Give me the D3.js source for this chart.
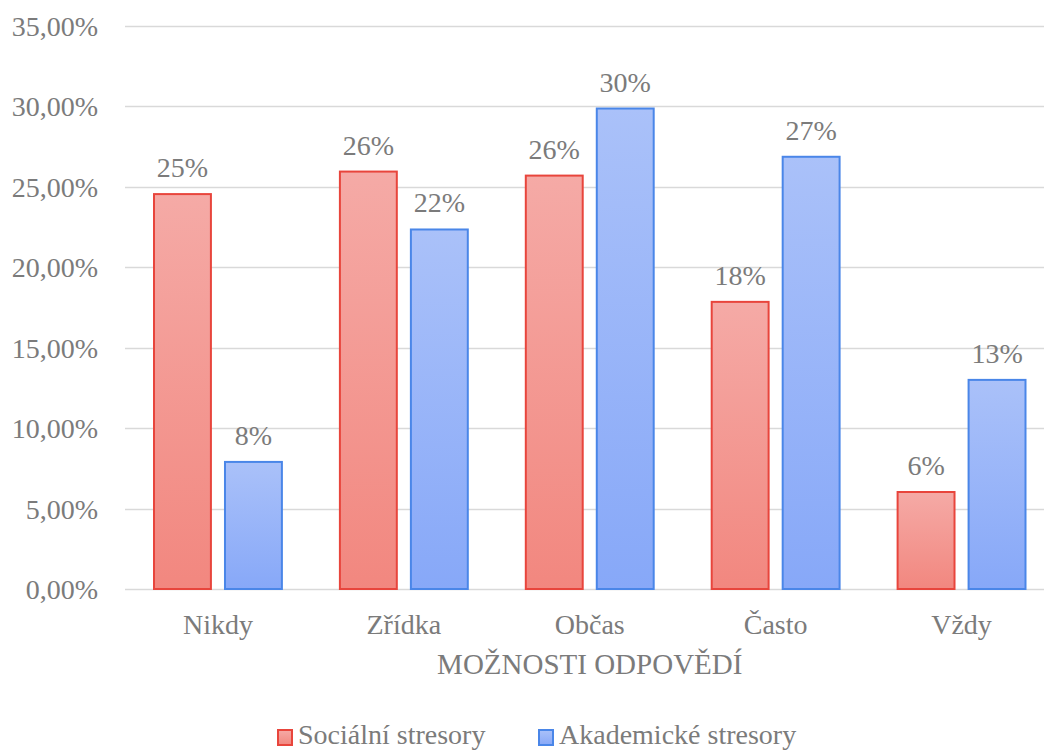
<!DOCTYPE html>
<html><head><meta charset="utf-8">
<script src="https://cdn.jsdelivr.net/npm/d3@7"></script>
<style>body{margin:0;background:#fff}svg{display:block}</style>
</head><body><svg id="c" width="1044" height="751"></svg>
<script>
const categories = ["Nikdy","Zřídka","Občas","Často","Vždy"];
const seriesNames = ["Sociální stresory","Akademické stresory"];
const social = [0.2455,0.2595,0.2570,0.1785,0.0603];
const academic = [0.0790,0.2235,0.2987,0.2687,0.1300];
const yTicks = [0,0.05,0.10,0.15,0.20,0.25,0.30,0.35];
const axisTitle = "MOŽNOSTI ODPOVĚDÍ";

const FONT = "'Liberation Serif'";
const TXT = "#7b7b7b";
const svg = d3.select("#c");
const plotLeft = 125, step = 185.9, plotTop = 26, plotBottom = 589;
const x0 = d3.scaleBand().domain(categories).range([plotLeft, plotLeft + step*categories.length]).paddingInner(0).paddingOuter(0);
const x1 = d3.scaleBand().domain(seriesNames).range([28, step-28]).paddingInner(0.17);
const y = d3.scaleLinear().domain([0,0.35]).range([plotBottom, plotTop]);

const defs = svg.append("defs");
const grads = [
  {id:"gR", top:"#f5aaa6", bot:"#f2877f", stroke:"#e8453c"},
  {id:"gB", top:"#aac1f9", bot:"#87a8f8", stroke:"#4a86e8"}
];
grads.forEach(g=>{
  const lg = defs.append("linearGradient").attr("id",g.id).attr("x1",0).attr("y1",0).attr("x2",0).attr("y2",1);
  lg.append("stop").attr("offset","0%").attr("stop-color",g.top);
  lg.append("stop").attr("offset","100%").attr("stop-color",g.bot);
});

// gridlines
svg.append("g").selectAll("line").data(yTicks).join("line")
  .attr("x1",plotLeft).attr("x2",1044).attr("y1",d=>Math.round(y(d))+0.5).attr("y2",d=>Math.round(y(d))+0.5)
  .attr("stroke","#d9d9d9").attr("stroke-width",1.5);

// y tick labels
const fmt = d => (d*100).toFixed(2).replace(".", ",") + "%";
svg.append("g").selectAll("text").data(yTicks).join("text")
  .attr("font-family",FONT).attr("fill",TXT)
  .attr("x",98).attr("y",d=>y(d)+10).attr("text-anchor","end").attr("font-size",28).text(fmt);

const data = [social, academic];
data.forEach((vals,si)=>{
  const g = svg.append("g");
  g.selectAll("rect").data(vals).join("rect")
    .attr("x",(d,i)=>x0(categories[i])+x1(seriesNames[si])+1)
    .attr("y",d=>y(d))
    .attr("width",x1.bandwidth()-2)
    .attr("height",d=>y(0)-y(d))
    .attr("fill",`url(#${grads[si].id})`)
    .attr("stroke",grads[si].stroke).attr("stroke-width",2);
  g.selectAll("text").data(vals).join("text")
    .attr("font-family",FONT).attr("fill",TXT)
    .attr("x",(d,i)=>x0(categories[i])+x1(seriesNames[si])+x1.bandwidth()/2)
    .attr("y",d=>y(d)-17)
    .attr("text-anchor","middle").attr("font-size",28)
    .text(d=>Math.round(d*100)+"%");
});

// category labels
svg.append("g").selectAll("text").data(categories).join("text")
  .attr("font-family",FONT).attr("fill",TXT)
  .attr("x",d=>x0(d)+step/2).attr("y",634).attr("text-anchor","middle").attr("font-size",28).text(d=>d);

svg.append("text").attr("font-family",FONT).attr("fill",TXT)
  .attr("x",x0(categories[2])+step/2).attr("y",674).attr("text-anchor","middle").attr("font-size",29).text(axisTitle);

// legend
const legX = [277, 538];
seriesNames.forEach((n,i)=>{
  svg.append("rect").attr("x",legX[i]+1).attr("y",730).attr("width",14).attr("height",15)
    .attr("fill",`url(#${grads[i].id})`).attr("stroke",grads[i].stroke).attr("stroke-width",2);
  svg.append("text").attr("font-family",FONT).attr("fill",TXT)
    .attr("x",legX[i]+21).attr("y",744).attr("font-size",28).text(n);
});
</script></body></html>
